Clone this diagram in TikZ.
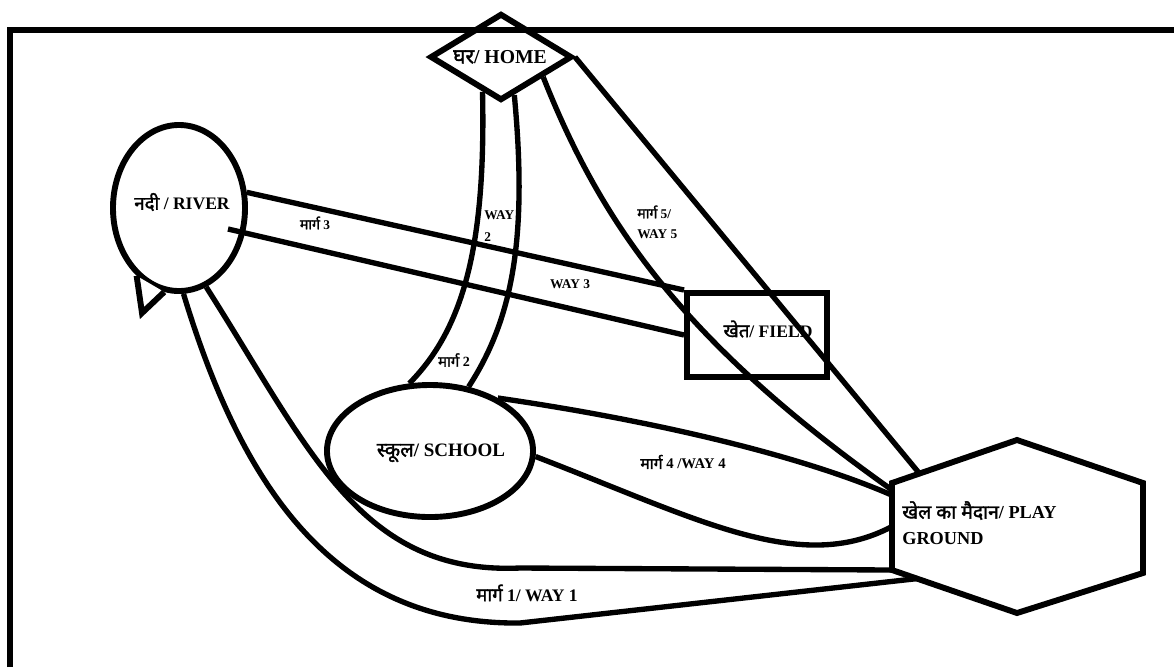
\documentclass[tikz,border=0pt]{standalone}
\usepackage{fontspec}
\setmainfont{Liberation Serif}
\newfontfamily\devfont[Script=Devanagari, FakeBold=1.8, Scale=1.06]{Noto Sans}
\usetikzlibrary{shapes.geometric,calc}
\newcommand{\hin}[1]{{\devfont\mdseries #1}}

\begin{document}
\begin{tikzpicture}[x=0.025cm, y=-0.025cm,
    road/.style={line width=3.8pt},
    place/.style={draw, line width=4.2pt, inner sep=0pt},
    ptext/.style={inner sep=0pt, font=\bfseries\fontsize{#1}{#1}\selectfont},
    waytext/.style={inner sep=0pt, font=\bfseries\fontsize{#1}{#1}\selectfont}]
    \useasboundingbox (0,0) rectangle (1174,667);

    % Frame
    \draw[line width=4.5pt] (10,667) -- (10,30) -- (1174,30);

    % Places
    \node[place, diamond, minimum width=3.55cm, minimum height=2.175cm] (HOME) at (501,57) {};
    \node[ptext=14] (HOMETXT) at (500,57) {\hin{घर}/ HOME};

    \node[place, ellipse, minimum width=3.3cm, minimum height=4.15cm] (RIVER) at (179,208) {};
    \coordinate (TAIL) at (142,313);
    \draw[line width=4.2pt, fill=white, line join=miter] (RIVER.238) -- (TAIL) -- (RIVER.260);
    \node[ptext=12.5] (RIVERTXT) at (182,202) {\hin{नदी} / RIVER};

    \node[place, rectangle, minimum width=3.5cm, minimum height=2.1cm] (FIELD) at (757,335) {};
    \node[ptext=12.5] (FIELDTXT) at (768,329) {\hin{खेत}/ FIELD};

    \node[place, ellipse, minimum width=5.15cm, minimum height=3.3cm] (SCHOOL) at (430,451) {};
    \node[ptext=13.5] (SCHOOLTXT) at (441,453) {\hin{स्कूल}/ SCHOOL};

    % Playground hexagon
    \coordinate (PLAYt) at (1017,440);
    \coordinate (PLAYur) at (1143,483);
    \coordinate (PLAYlr) at (1143,573);
    \coordinate (PLAYb) at (1017,613);
    \coordinate (PLAYll) at (892,570);
    \coordinate (PLAYul) at (892,483);
    \draw[line width=4.2pt, line join=miter] (PLAYt) -- (PLAYur) -- (PLAYlr) -- (PLAYb) -- (PLAYll) -- (PLAYul) -- cycle;
    \node[inner sep=0pt, align=left, anchor=west, font=\bfseries\fontsize{13}{18.5}\selectfont] (PLAYTXT) at (902,523) {\hin{खेल का मैदान}/ PLAY\\GROUND};

    % Way 1
    \draw[road] (RIVER.-71) .. controls (310,450) and (360,575) .. (520,568) -- (PLAYll);
    \draw[road] (RIVER.-87) .. controls (240,480) and (330,625) .. (520,623) -- ($(PLAYll)!0.2!(PLAYb)$);
    \node[waytext=12.5] (WAY1) at (527,593) {\hin{मार्ग} 1/ WAY 1};

    % Way 2
    \draw[road] ($(HOME.south)!0.25!(HOME.west)$) .. controls (486,250) and (462,330) .. (SCHOOL.107);
    \draw[road] ($(HOME.south)!0.18!(HOME.east)$) .. controls (528,240) and (512,320) .. (SCHOOL.59);
    \node[inner sep=0pt, align=left, anchor=west, font=\bfseries\fontsize{9.5}{15.5}\selectfont] (WAY2) at (484,226) {WAY\\2};
    \node[waytext=10] (WAY2H) at (454,360) {\hin{मार्ग} 2};

    % Way 3
    \draw[road] (RIVER.13) -- (FIELD.north west);
    \draw[road] ($(RIVER.center)+(49,21)$) -- (FIELD.west);
    \node[waytext=9.5] (WAY3H) at (315,223) {\hin{मार्ग} 3};
    \node[waytext=9.5] (WAY3) at (570,284) {WAY 3};

    % Way 4
    \draw[road] (SCHOOL.38) .. controls (650,420) and (800,455) .. ($(PLAYul)!0.14!(PLAYll)$);
    \draw[road] (SCHOOL.-3) .. controls (700,520) and (800,575) .. ($(PLAYul)!0.5!(PLAYll)$);
    \node[waytext=10.5] (WAY4) at (683,462) {\hin{मार्ग} 4 /WAY 4};

    % Way 5
    \draw[road] ($(HOME.south)!0.57!(HOME.east)$) .. controls (600,220) and (680,340) .. ($(PLAYul)!0.08!(PLAYll)$);
    \draw[road] (HOME.east) -- ($(PLAYul)!0.22!(PLAYt)$);
    \node[inner sep=0pt, align=left, anchor=west, font=\bfseries\fontsize{9.5}{14.2}\selectfont] (WAY5) at (637,222) {\hin{मार्ग} 5/\\WAY 5};
\end{tikzpicture}
\end{document}
